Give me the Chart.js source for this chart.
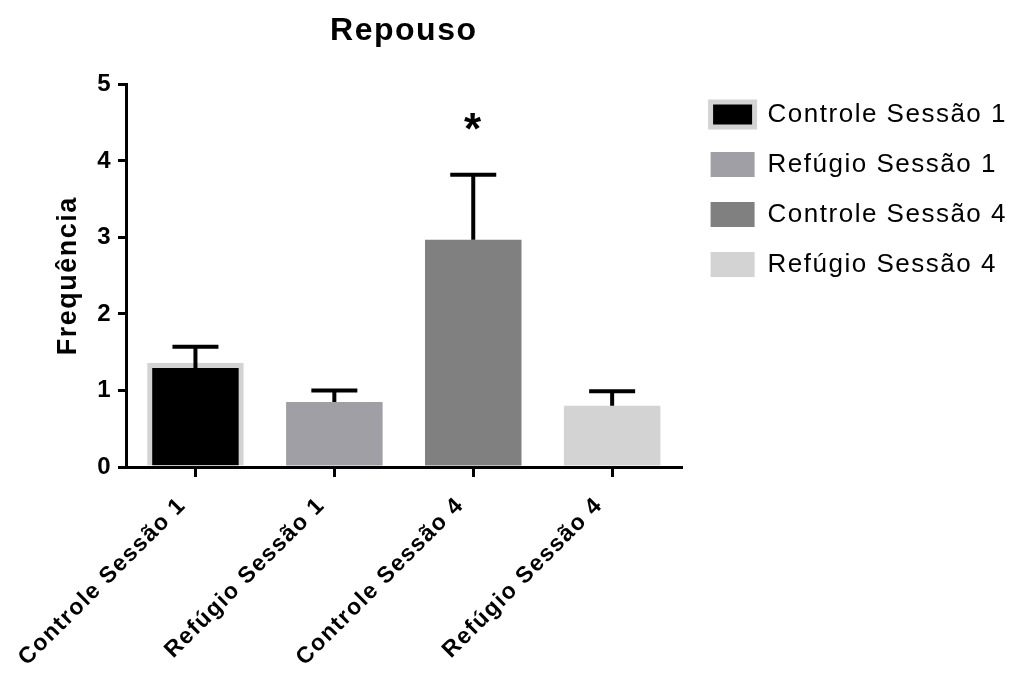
<!DOCTYPE html>
<html><head><meta charset="utf-8">
<script src="https://cdn.jsdelivr.net/npm/chart.js@4/dist/chart.umd.min.js"></script>
<style>html,body{margin:0;padding:0;background:#fff}</style>
</head><body>
<canvas id="c" width="1027" height="684"></canvas>
<script>
const categories = ['Controle Sessão 1', 'Refúgio Sessão 1', 'Controle Sessão 4', 'Refúgio Sessão 4'];
const means = [1.36, 0.85, 2.97, 0.80];
const sems = [0.21, 0.15, 0.85, 0.19];
const marks = ['', '', '*', ''];
const starValue = 4.22;
const barColors = ['#000000', '#a09fa5', '#808080', '#d3d3d3'];
const borderColors = ['#d3d3d3', 'rgba(0,0,0,0)', 'rgba(0,0,0,0)', 'rgba(0,0,0,0)'];
const borderWidths = [5, 0, 0, 0];
const yTicks = [0, 1, 2, 3, 4, 5];
const FONT = '"Liberation Sans", Arial, Helvetica, sans-serif';

const spacingPlugin = {
  id: 'spacing',
  beforeUpdate(chart) { chart.ctx.letterSpacing = '1.5px'; },
  afterLayout(chart) {
    if (chart.legend) { chart.legend.top -= 7; chart.legend.left += 5; }
  },
  beforeDraw(chart) { chart.ctx.letterSpacing = '1.5px'; }
};

const errorPlugin = {
  id: 'errbars',
  afterDatasetsDraw(chart) {
    const ctx = chart.ctx;
    const meta = chart.getDatasetMeta(0);
    const y = chart.scales.y;
    ctx.save();
    ctx.strokeStyle = '#000';
    ctx.lineWidth = 4;
    meta.data.forEach((bar, i) => {
      const x = bar.x;
      const y0 = y.getPixelForValue(means[i]) + borderWidths[i];
      const y1 = y.getPixelForValue(means[i] + sems[i]);
      ctx.beginPath();
      ctx.moveTo(x, y0); ctx.lineTo(x, y1);
      ctx.moveTo(x - 23, y1); ctx.lineTo(x + 23, y1);
      ctx.stroke();
      if (marks[i]) {
        ctx.fillStyle = '#000';
        ctx.font = 'bold 44px ' + FONT;
        ctx.textAlign = 'center';
        ctx.textBaseline = 'alphabetic';
        ctx.fillText(marks[i], x, y.getPixelForValue(starValue));
      }
    });
    ctx.restore();
  }
};

new Chart(document.getElementById('c'), {
  type: 'bar',
  data: {
    labels: categories,
    datasets: [{
      data: means,
      backgroundColor: barColors,
      borderColor: borderColors,
      borderWidth: borderWidths,
      borderSkipped: 'start',
      barPercentage: 0.695,
      categoryPercentage: 1
    }]
  },
  options: {
    responsive: false,
    devicePixelRatio: 1,
    animation: false,
    layout: { padding: { left: 52, top: 0, right: 15, bottom: 0 } },
    plugins: {
      tooltip: { enabled: false },
      title: {
        display: true, text: 'Repouso', fullSize: false, color: '#000',
        font: { family: FONT, size: 32, weight: 'bold' },
        padding: { top: 12, bottom: 34 }
      },
      legend: {
        position: 'right', align: 'start', fullSize: false, maxWidth: 345,
        onClick: null,
        labels: {
          boxWidth: 44, boxHeight: 25, padding: 24, color: '#000',
          font: { family: FONT, size: 26 },
          generateLabels: () => categories.map((c, i) => ({
            text: c, fillStyle: barColors[i], strokeStyle: borderColors[i],
            lineWidth: borderWidths[i], hidden: false, index: i, datasetIndex: 0, fontColor: '#000'
          }))
        }
      }
    },
    scales: {
      x: {
        grid: { display: true, drawOnChartArea: false, drawTicks: true, tickLength: 10, color: '#000', lineWidth: 3, offset: false },
        border: { display: true, color: '#000', width: 3 },
        ticks: { color: '#000', font: { family: FONT, size: 23, weight: 'bold' }, maxRotation: 45, minRotation: 45, padding: 15, labelOffset: -13, autoSkip: false },
        afterFit(s) { s.height = 217; }
      },
      y: {
        min: 0, max: 5,
        afterBuildTicks(s) { s.ticks = yTicks.map(v => ({ value: v })); },
        grid: { display: true, drawOnChartArea: false, drawTicks: true, tickLength: 8, color: '#000', lineWidth: 3 },
        border: { display: true, color: '#000', width: 3 },
        ticks: { color: '#000', font: { family: FONT, size: 24, weight: 'bold' }, padding: 6 },
        title: { display: true, text: 'Frequência', color: '#000', font: { family: FONT, size: 27, weight: 'bold' }, padding: { top: 0, bottom: 0 } },
        afterFit(s) { s.width = 74; }
      }
    }
  },
  plugins: [spacingPlugin, errorPlugin]
});
</script>
</body></html>
